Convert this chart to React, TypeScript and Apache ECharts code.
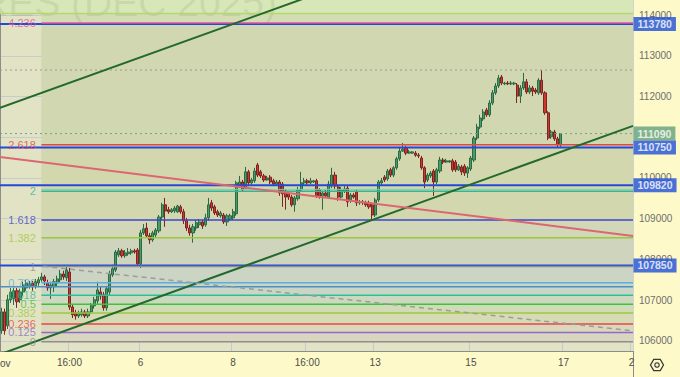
import React, { useEffect, useRef } from 'react';
import * as echarts from 'echarts';

// ---------- data ----------
const slotCount = 205;
const tickIndex = [22, 45, 75, 99, 121, 152, 182, 204];
const tickText = ['16:00', '6', '8', '16:00', '13', '15', '17', '2'];

// [open, close, low, high]
const candles: number[][] = [
  [106250,106710,106170,106810],[106710,106250,106150,106790],[106370,107010,106290,107130],[107010,107200,106930,107300],
  [107030,107230,106880,107300],[107230,106960,106810,107300],[107010,107200,106930,107280],[107200,107370,107100,107450],
  [107300,107420,107230,107500],[107330,107400,107280,107470],[107420,107330,107230,107470],[107350,107450,107280,107520],
  [107420,107500,107350,107570],[107500,107570,107450,107670],[107570,107470,107370,107620],[107420,107300,107230,107500],
  [107300,107370,107030,107450],[107330,107450,107200,107520],[107420,107520,107330,107600],[107500,107640,107420,107740],
  [107640,107570,107500,107720],[107550,107740,107470,107820],[107690,106830,106760,107790],[106830,106640,106560,106880],
  [106690,106610,106520,106760],[106610,106690,106560,106740],[106640,106710,106590,106790],[106710,106610,106560,106760],
  [106610,106710,106560,106790],[106710,106860,106660,106930],[106860,107010,106790,107080],[106980,107250,106910,107450],
  [107200,107100,107010,107330],[107130,106810,106740,107200],[106810,107280,106740,107350],[107200,107640,107130,107720],
  [107620,107770,107570,107870],[107740,108180,107690,108230],[108110,108210,108060,108280],[108210,108090,108040,108260],
  [108090,108160,108040,108230],[108140,108180,108090,108280],[108160,108210,108110,108260],[108210,108180,108140,108260],
  [108230,107890,107820,108280],[107890,108650,107790,108720],[108650,108750,108600,108870],[108770,108580,108530,108900],
  [108580,108480,108380,108650],[108480,108650,108430,108700],[108600,108720,108550,108770],[108700,109040,108650,109090],
  [109040,109340,108970,109390],[109340,109190,108800,109510],[109220,109170,109120,109290],[109170,109220,109140,109260],
  [109190,109260,109140,109310],[109170,109310,109140,109340],[109290,109170,109120,109340],[109170,108950,108870,109240],
  [108950,108770,108700,109020],[108770,108650,108580,108850],[108650,108800,108410,108870],[108770,108900,108700,108970],
  [108850,108920,108770,108990],[108920,108820,108750,108970],[108850,109020,108800,109120],[109020,109340,108950,109510],
  [109390,109260,109190,109460],[109290,109140,109090,109340],[109170,109090,109040,109220],[109070,109140,109020,109190],
  [109090,108920,108870,109140],[108920,109070,108820,109120],[108990,109070,108950,109120],[109020,109170,108970,109240],
  [109120,109880,109070,109930],[109800,109900,109750,110050],[109900,109710,109660,109950],[109750,110150,109710,110270],
  [110150,109880,109800,110200],[109880,109950,109830,110000],[109930,110170,109880,110250],[110320,110070,110020,110370],
  [110150,110050,110000,110200],[110050,109950,109900,110100],[109950,110000,109930,110050],[110020,109900,109850,110070],
  [109930,109850,109800,109980],[109850,109900,109830,109950],[109900,109630,109560,109950],[109850,109610,109290,109900],
  [109680,109530,109220,109730],[109610,109530,109460,109660],[109530,109340,109290,109580],[109340,109510,109170,109560],
  [109490,109710,109440,109780],[109710,109880,109660,110150],[109880,109930,109830,110000],[109930,109880,109830,109980],
  [109880,109930,109850,110000],[109900,109930,109880,109950],[109930,109560,109510,109980],[109710,109530,109490,109750],
  [109560,109630,109220,109680],[109630,109560,109510,109710],[109530,109850,109490,109930],[109800,110070,109750,110250],
  [110070,109800,109730,110150],[109780,109530,109440,109830],[109530,109710,109490,109780],[109680,109730,109630,109800],
  [109750,109410,109290,109800],[109460,109580,109390,109630],[109580,109530,109490,109630],[109660,109390,109310,109710],
  [109390,109410,109340,109460],[109410,109390,109340,109460],[109390,109340,109290,109440],[109390,109290,109240,109440],
  [109340,109090,108970,109390],[109090,109460,109040,109510],[109460,109900,109410,109950],[109880,109930,109830,110000],
  [110020,109950,109900,110070],[109980,110170,109930,110220],[110200,110070,110020,110250],[110070,110250,110020,110290],
  [110250,110470,110200,110520],[110470,110660,110420,110740],[110660,110710,110640,110860],[110740,110610,110560,110790],
  [110610,110640,110590,110690],[110610,110640,110590,110660],[110610,110560,110520,110660],[110560,110540,110490,110610],
  [110490,110250,110200,110540],[110250,109900,109750,110290],[109950,110070,109900,110120],[110050,110120,110000,110170],
  [110170,109900,109560,110220],[109900,110200,109850,110250],[110170,110440,110120,110520],[110440,110390,110340,110490],
  [110390,110420,110370,110470],[110390,110420,110370,110440],[110420,110200,110150,110470],[110390,110200,110150,110440],
  [110200,110290,110170,110340],[110270,110150,110070,110320],[110290,110120,110050,110340],[110120,110250,110000,110290],
  [110220,110490,110170,110540],[110440,110980,110390,111030],[110980,111250,110930,111330],[111250,111470,111200,111550],
  [111450,111620,111400,111690],[111670,111550,111500,111720],[111550,111840,111500,111910],[111840,112090,111790,112160],
  [112090,112260,112040,112330],[112260,112450,112210,112530],[112480,112330,112280,112530],[112310,112330,112280,112360],
  [112330,112310,112280,112380],[112310,112330,112280,112380],[112310,112330,112280,112360],[112280,112010,111840,112330],
  [112010,112210,111840,112280],[112210,112360,112160,112580],[112360,112110,112060,112430],[112110,112210,112060,112280],
  [112210,112130,112010,112260],[112160,112110,112060,112210],[112090,112400,112040,112450],[112400,112090,112040,112650],
  [112090,111600,111550,112130],[111600,110980,110930,111640],[111010,111130,110960,111180],[111130,110960,110910,111180],
  [110960,110810,110760,111010],[110810,111090,110760,111100],
];

const fibLevels = ['0', '0.125', '0.236', '0.382', '0.5', '0.618', '0.786', '1', '1.382', '1.618', '2', '2.618', '4.236'];
const fibPrices = [105975, 106206, 106411, 106681, 106899, 107117, 107428, 107823, 108529, 108965, 109671, 110813, 113803];
const fibColors = ['#8e8e8e', '#8a6ccf', '#e04848', '#9cc83e', '#3cc23c', '#2dbf97', '#5aaee0', '#8a8f98', '#9cc83e', '#3a46cc', '#33b59b', '#e04848', '#e0559a'];
const fibBandColors = ['#d9d5bf', '#dcd7ba', '#d6dab5', '#d2dbb7', '#ccd9bf', '#c9d6c6', '#ccd4c4', '#cfd5bd', '#d2d7b7', '#d3d7ae', '#d3d7ae', '#d1d7b1', '#d3dcb3'];
const fibStart = 13.4;
const topGreenLevel = 114040;

const priceTags = [113780, 111090, 110750, 109820, 107850];
const priceTagColors = ['#1f4fd8', '#62a07c', '#1f4fd8', '#1f4fd8', '#1f4fd8'];
const blueLevels = [113780, 110750, 109820, 107850];
const highDotted = 112650;
const lastPrice = 111090;
const steelLevel = 107325;
const greenNear2 = 109720;

const upperChannel = [[0, 111720], [120, 114995]];
const lowerChannel = [[0, 105670], [205, 111280]];
const redTrend = [[0, 110515], [205, 108577]];
const dashedTrend = [[14, 107830], [205, 106245]];

const yMin = 105750;
const yMax = 114370;

const FONT = '"Liberation Sans", Arial, sans-serif';

function hLine(x0: number, p: number, color: string, width: number, type: any = 'solid', z = 4) {
  return {
    type: 'line', xAxisIndex: 1, yAxisIndex: 0, silent: true, symbol: 'none', z,
    data: [[x0, p], [slotCount, p]],
    lineStyle: { color, width, type },
  };
}
function tLine(pts: number[][], color: string, width: number, type: any = 'solid', z = 5) {
  return {
    type: 'line', xAxisIndex: 1, yAxisIndex: 0, silent: true, symbol: 'none', z,
    data: pts, lineStyle: { color, width, type },
  };
}

export default function App() {
  const ref = useRef<HTMLDivElement>(null);
  useEffect(() => {
    if (!ref.current) return;
    const chart = echarts.init(ref.current, undefined, { renderer: 'svg' });
    const cats = Array.from({ length: slotCount }, (_, i) => String(i));
    const tickSet = new Set(tickIndex);

    const bandData: any[] = [];
    for (let i = 0; i < fibPrices.length; i++) {
      const lo = fibPrices[i];
      const hi = i + 1 < fibPrices.length ? fibPrices[i + 1] : topGreenLevel;
      bandData.push([{ coord: [fibStart, lo], itemStyle: { color: fibBandColors[i] } }, { coord: [slotCount, hi] }]);
    }
    bandData.push([{ coord: [0, topGreenLevel], itemStyle: { color: '#d7e7b7' } }, { coord: [slotCount, yMax] }]);

    const series: any[] = [
      {
        type: 'line', xAxisIndex: 1, yAxisIndex: 0, silent: true, symbol: 'none', z: 1,
        data: [[0, yMin]], lineStyle: { width: 0, opacity: 0 },
        markArea: { silent: true, label: { show: false }, data: bandData },
      },
      {
        type: 'candlestick', xAxisIndex: 0, yAxisIndex: 0, silent: true, z: 3,
        barWidth: 2.6,
        data: candles,
        itemStyle: { color: '#4a9a6a', color0: '#cf372c', borderColor: '#2c6a44', borderColor0: '#7b2420', borderWidth: 1 },
      },
      hLine(0, topGreenLevel, '#b2d96b', 1.5),
      ...blueLevels.map((p) => hLine(0, p, '#2448d8', 2)),
      hLine(0, highDotted, '#9a9a9a', 1, [2, 3]),
      hLine(0, lastPrice, '#6fa586', 1, [2, 3]),
      hLine(0, steelLevel, '#4d8fbf', 1.5),
      hLine(fibStart, greenNear2, '#7fcf9f', 1),
      ...fibPrices.map((p, i) => hLine(fibStart, p, fibColors[i], 1.5, 'solid', 4)),
      tLine(upperChannel, '#22692b', 2),
      tLine(lowerChannel, '#22692b', 2),
      tLine(redTrend, '#dc6672', 2),
      tLine(dashedTrend, '#9c9c9c', 1.5, [5, 4]),
      {
        type: 'scatter', xAxisIndex: 1, yAxisIndex: 0, silent: true, z: 6, symbolSize: 1,
        itemStyle: { color: 'transparent' },
        data: fibPrices.map((p, i) => ({
          value: [12.1, p],
          label: { show: true, position: 'left', distance: 1, formatter: fibLevels[i], color: fibColors[i], fontSize: 11, fontFamily: FONT },
        })),
      },
      {
        type: 'scatter', xAxisIndex: 1, yAxisIndex: 0, silent: true, z: 7, symbolSize: 1, clip: false,
        itemStyle: { color: 'transparent' },
        data: priceTags.map((p, i) => ({
          value: [slotCount, p],
          label: {
            show: true, position: 'right', distance: 0, formatter: String(p),
            color: '#ffffff', fontWeight: 'bold', fontSize: 10.5, fontFamily: FONT,
            backgroundColor: priceTagColors[i], padding: [2, 4, 1, 4], lineHeight: 11,
          },
        })),
      },
    ];

    const hexR = 6.5;
    const cx = 657, cy = 365;
    const hex = [0, 60, 120, 180, 240, 300].map((a) => [cx + hexR * Math.cos((a * Math.PI) / 180), cy + hexR * Math.sin((a * Math.PI) / 180)]);

    chart.setOption({
      animation: false,
      backgroundColor: '#fdf9c9',
      textStyle: { fontFamily: FONT },
      grid: { left: 0, right: 47, top: 0, bottom: 26, show: true, backgroundColor: '#e2e3c4', borderWidth: 0 },
      xAxis: [
        {
          type: 'category', data: cats, boundaryGap: true,
          axisLine: { show: true, lineStyle: { color: '#8c8c8c' } },
          axisTick: { show: false },
          axisLabel: {
            interval: (i: number) => tickSet.has(i),
            formatter: (_v: string, i: number) => { const k = tickIndex.indexOf(i); return k >= 0 ? tickText[k] : ''; },
            color: '#4d4d4d', fontSize: 10, margin: 6, fontFamily: FONT, hideOverlap: false,
          },
          splitLine: { show: true, interval: (i: number) => tickSet.has(i), lineStyle: { color: 'rgba(170,182,212,0.55)', width: 1 } },
        },
        { type: 'value', min: 0, max: slotCount, show: false },
      ],
      yAxis: {
        type: 'value', position: 'right', min: yMin, max: yMax, splitNumber: 9,
        axisLine: { show: true, lineStyle: { color: '#8c8c8c' } },
        axisTick: { show: false },
        axisLabel: {
          color: '#6e6e6e', fontSize: 10, margin: 6, fontFamily: FONT, showMinLabel: false, showMaxLabel: false,
          formatter: (v: number) => (v === 111000 ? '' : String(v)),
        },
        splitLine: { show: true, lineStyle: { color: 'rgba(170,182,212,0.5)', width: 1 } },
      },
      graphic: [
        {
          type: 'text', x: 277, y: 22, z: 2, silent: true,
          style: { text: 'FUTURES (DEC 2025)', font: '39px "Liberation Sans", Arial, sans-serif', fill: 'rgba(100,112,70,0.13)', textAlign: 'right', textVerticalAlign: 'bottom' },
        },
        { type: 'text', x: 0, y: 363, silent: true, style: { text: 'ov', font: '10px "Liberation Sans", Arial, sans-serif', fill: '#4d4d4d', textAlign: 'left', textVerticalAlign: 'middle' } },
        { type: 'line', silent: true, shape: { x1: 633.5, y1: 351, x2: 633.5, y2: 377 }, style: { stroke: '#8c8c8c', lineWidth: 1 } },
        { type: 'polygon', silent: true, shape: { points: hex }, style: { fill: 'none', stroke: '#3a3a3a', lineWidth: 1.3 } },
        { type: 'circle', silent: true, shape: { cx, cy, r: 2.2 }, style: { fill: 'none', stroke: '#3a3a3a', lineWidth: 1.2 } },
      ],
      series,
    });
    return () => chart.dispose();
  }, []);
  return <div ref={ref} style={{ position: 'fixed', left: 0, top: 0, width: 680, height: 377 }} />;
}
